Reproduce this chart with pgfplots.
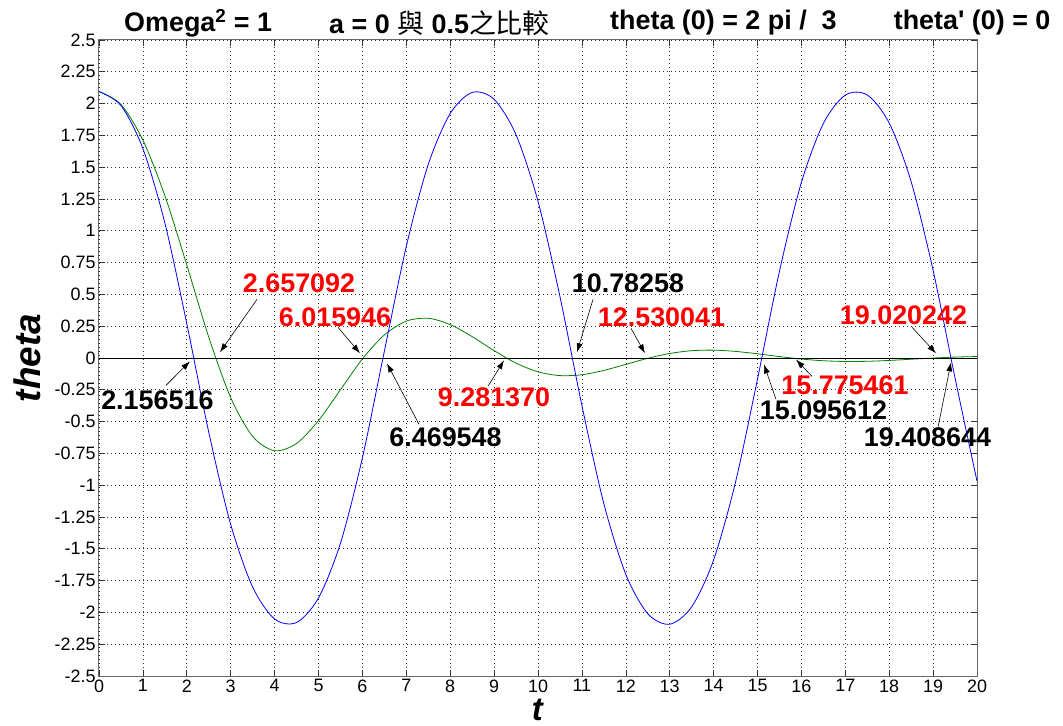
\documentclass[border=0pt]{standalone}
\usepackage{fontspec}
\setmainfont{Liberation Sans}
\newfontfamily\plainsans{Liberation Sans}
\newfontfamily\cjk{Noto Sans CJK TC}
\usepackage{pgfplots}
\pgfplotsset{compat=1.18}
\usetikzlibrary{arrows.meta}

\pgfplotstableread{
t theta
0 2.0944
0.5 1.9849
1 1.6461
1.5 1.0619
2 0.2699
2.5 -0.5832
3 -1.3088
3.5 -1.8009
4 -2.0518
4.5 -2.0794
5 -1.8861
5.5 -1.4565
6 -0.7846
6.5 0.0526
7 0.8778
7.5 1.5220
8 1.9218
8.5 2.0877
9 2.0335
9.5 1.7543
10 1.2321
10.5 0.4829
11 -0.3733
11.5 -1.1457
12 -1.7002
12.5 -2.0101
13 -2.0930
13.5 -1.9563
14 -1.5883
14.5 -0.9747
15 -0.1655
15.5 0.6816
16 1.3806
16.5 1.8439
17 2.0668
17.5 2.0678
18 1.8470
18.5 1.3859
19 0.6888
19.5 -0.1577
20 -0.9682
}\bluedata

\pgfplotstableread{
t theta
0 2.0944
0.5 1.9935
1 1.7124
1.5 1.2763
2 0.7307
2.5 0.1644
3 -0.3114
3.5 -0.6165
4 -0.7290
4.5 -0.6717
5 -0.4918
5.5 -0.2497
6 -0.0077
6.5 0.1814
7 0.2898
7.5 0.3122
8 0.2627
8.5 0.1678
9 0.0580
9.5 -0.0404
10 -0.1088
10.5 -0.1384
11 -0.1316
11.5 -0.0977
12 -0.0502
12.5 -0.0023
13 0.0355
13.5 0.0573
14 0.0618
14.5 0.0519
15 0.0330
15.5 0.0111
16 -0.0083
16.5 -0.0217
17 -0.0274
17.5 -0.0259
18 -0.0191
18.5 -0.0097
19 -0.0003
19.5 0.0071
20 0.0114
}\greendata

\definecolor{mblue}{RGB}{0,0,255}
\definecolor{mgreen}{RGB}{0,128,0}
\definecolor{mred}{RGB}{255,0,0}

\tikzset{
  ann/.style={font=\fontsize{27}{29}\selectfont\bfseries, inner sep=0pt},
  arr/.style={-{Latex[length=9bp,width=6bp]}, line width=0.6bp, black},
}

\begin{document}
\begin{tikzpicture}
\useasboundingbox (-99bp,-50bp) rectangle (964bp,676bp);
\begin{axis}[
  at={(0,0)}, anchor=south west,
  width=878bp, height=636bp, scale only axis,
  xmin=0, xmax=20, ymin=-2.5, ymax=2.5,
  xtick={0,1,...,20},
  ytick={-2.5,-2.25,-2,-1.75,-1.5,-1.25,-1,-0.75,-0.5,-0.25,0,0.25,0.5,0.75,1,1.25,1.5,1.75,2,2.25,2.5},
  /pgf/number format/assume math mode=true,
  /pgf/number format/fixed,
  /pgf/number format/precision=2,
  ticklabel style={font=\fontsize{18}{20}\selectfont},
  tick align=inside,
  major tick length=6bp,
  tick style={black!80, line width=0.6bp},
  axis line style={black!60, line width=1bp},
  grid=major,
  major grid style={black!80, line width=0.6bp, dash pattern=on 1bp off 3bp},
  xlabel={\textbf{\textit{t}}},
  ylabel={\textbf{\textit{theta}}},
  xlabel style={font=\fontsize{33}{35}\selectfont, at={(axis description cs:0.5,-0.054)}, anchor=center},
  ylabel style={font=\fontsize{37}{39}\selectfont, at={(axis description cs:-0.082,0.5)}, anchor=center},
  clip mode=individual,
]
\addplot[mgreen, line width=0.8bp, smooth] table[x=t, y=theta] {\greendata};
\addplot[mblue, line width=0.8bp, smooth] table[x=t, y=theta] {\bluedata};
\addplot[black, line width=0.8bp] coordinates {(0,0) (20,0)};

% annotations
\node[ann, text=black] at (axis cs:1.330,-0.333) {2.156516};
\draw[arr] (axis cs:1.526,-0.215) -- (axis cs:2.073,-0.026);
\node[ann, text=mred] at (axis cs:4.556,0.587) {2.657092};
\draw[arr] (axis cs:3.599,0.461) -- (axis cs:2.756,0.045);
\node[ann, text=mred] at (axis cs:5.376,0.320) {6.015946};
\draw[arr] (axis cs:5.444,0.241) -- (axis cs:5.945,0.037);
\node[ann, text=black] at (axis cs:7.893,-0.623) {6.469548};
\draw[arr] (axis cs:7.289,-0.521) -- (axis cs:6.560,-0.042);
\node[ann, text=mred] at (axis cs:8.998,-0.309) {9.281370};
\draw[arr] (axis cs:8.861,-0.222) -- (axis cs:9.226,-0.018);
\node[ann, text=black] at (axis cs:12.050,0.587) {10.78258};
\draw[arr] (axis cs:11.253,0.461) -- (axis cs:10.888,0.045);
\node[ann, text=mred] at (axis cs:12.813,0.320) {12.530041};
\draw[arr] (axis cs:12.118,0.233) -- (axis cs:12.437,0.037);
\node[ann, text=mred] at (axis cs:16.993,-0.212) {15.775461};
\draw[arr] (axis cs:16.242,-0.145) -- (axis cs:15.877,-0.012);
\node[ann, text=black] at (axis cs:16.503,-0.408) {15.095612};
\draw[arr] (axis cs:15.421,-0.325) -- (axis cs:15.148,-0.050);
\node[ann, text=mred] at (axis cs:18.326,0.336) {19.020242};
\draw[arr] (axis cs:18.519,0.242) -- (axis cs:19.066,0.037);
\node[ann, text=black] at (axis cs:18.872,-0.623) {19.408644};
\draw[arr] (axis cs:19.112,-0.545) -- (axis cs:19.408,-0.034);

% title
\begin{scope}[every node/.style={font=\plainsans\fontsize{27}{29}\selectfont\bfseries, anchor=west, inner sep=0pt}]
\node at (axis description cs:0.0285,1.027) {Omega\textsuperscript{2} = 1};
\node at (axis description cs:0.262,1.027) {a = 0 {\cjk\mdseries 與} 0.5{\cjk\mdseries 之比較}};
\node at (axis description cs:0.582,1.027) {theta (0) = 2 pi /~~3};
\node at (axis description cs:0.905,1.027) {theta' (0) = 0};
\end{scope}
\end{axis}
\end{tikzpicture}
\end{document}
